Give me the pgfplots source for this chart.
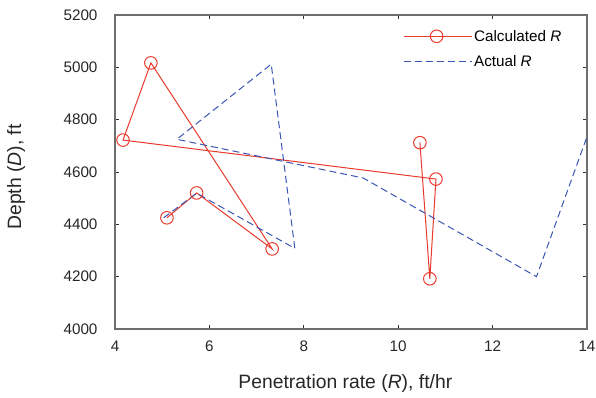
\documentclass[border=0pt]{standalone}
\usepackage{fontspec}
\setmainfont{Liberation Sans}
\usepackage{pgfplots}
\pgfplotsset{compat=1.18}
\definecolor{calcred}{RGB}{232,58,45}
\definecolor{actblue}{RGB}{58,85,180}
\definecolor{axgray}{RGB}{110,110,110}
\begin{document}
\begin{tikzpicture}
\path[use as bounding box] (-115bp,-69bp) rectangle (481bp,329bp);
\begin{axis}[
  at={(0,0)}, anchor=south west,
  scale only axis, width=472bp, height=314bp,
  xmin=4, xmax=14, ymin=4000, ymax=5200,
  xtick={4,6,...,14}, ytick={4000,4200,...,5200},
  tick align=inside, major tick length=4bp,
  axis line style={axgray, line width=1.2bp},
  every tick/.style={black!80, line width=0.8bp},
  /pgf/number format/assume math mode=true,
  /pgf/number format/1000 sep={},
  tick label style={font=\fontsize{15.3}{17}\selectfont, text=black!85},
  xticklabel style={yshift=-8bp},
  yticklabel style={xshift=-14bp},
  xlabel={Penetration rate (\textit{R}), ft/hr},
  ylabel={Depth (\textit{D}), ft},
  label style={font=\fontsize{19.4}{22}\selectfont, text=black!85},
  xlabel style={at={(axis description cs:0.488,0)}, anchor=center, yshift=-54bp},
  ylabel style={at={(axis description cs:-0.2097,0.484)}, anchor=center},
  legend style={at={(rel axis cs:0.6037,0.9655)}, anchor=north west, draw=none, fill=none,
    font=\fontsize{15.3}{17}\selectfont, row sep=9bp},
  legend cell align=left,
  legend image code/.code={\path (0bp,0bp) -- (68bp,0bp);\draw[mark repeat=2,mark phase=2,#1] plot coordinates {(0bp,0bp) (33bp,0bp) (66bp,0bp)};},
]
\addplot[calcred, line width=1bp, mark=o, mark size=6.3bp, mark options={solid, line width=1bp}]
coordinates {(5.10,4425) (5.73,4520) (7.33,4306) (4.76,5017) (4.17,4722) (10.80,4573) (10.67,4192) (10.46,4712)};
\addlegendentry{Calculated \textit{R}}
\addplot[actblue, line width=1bp, dash pattern=on 7bp off 4bp]
coordinates {(5.03,4425) (5.73,4519) (7.81,4308) (7.31,5012) (5.31,4725) (9.26,4577) (12.93,4200) (14.0,4735)};
\addlegendentry{Actual \textit{R}}
\end{axis}
\end{tikzpicture}
\end{document}
